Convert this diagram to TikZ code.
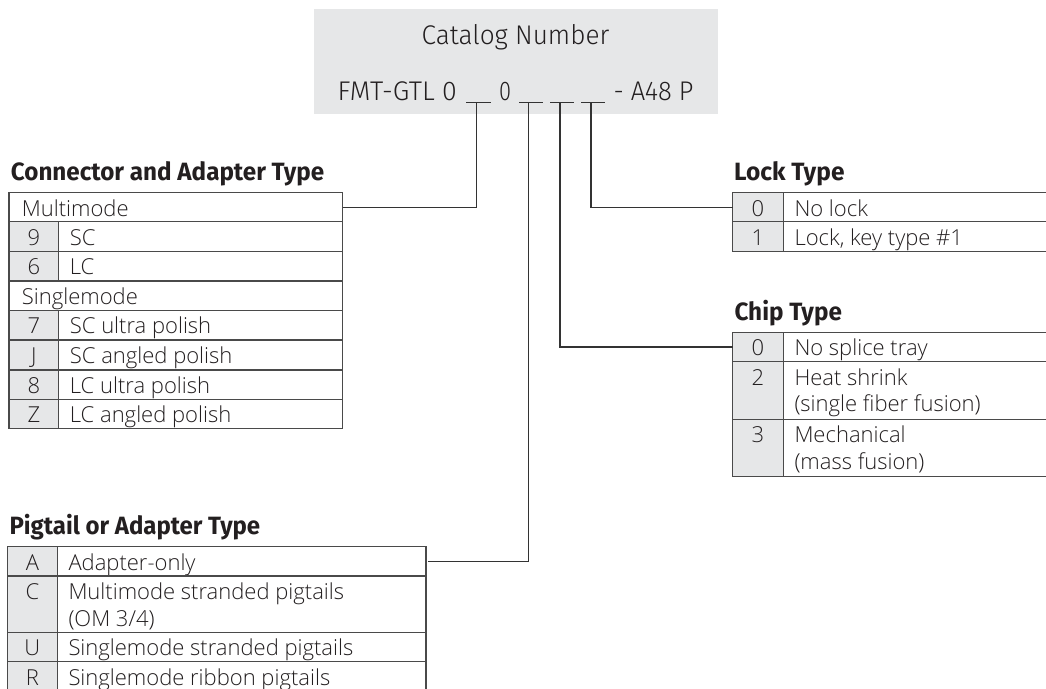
\documentclass[tikz,border=0pt]{standalone}
\usepackage{fontspec}
\setmainfont{Open Sans}[UprightFont={* Light}]
\newfontfamily\headfont{Fira Sans}
\newfontfamily\catfont{Fira Sans}[UprightFont={* Light}]
\usetikzlibrary{fit}
\definecolor{boxgrey}{HTML}{E6E7E8}
\definecolor{linecol}{HTML}{4A4A4A}
\definecolor{wirecol}{HTML}{333333}
\definecolor{txtcol}{HTML}{231F20}
\tikzset{
  cell/.style={draw=linecol, line width=1.4pt, inner sep=0pt, outer sep=0pt},
  numcell/.style={cell, fill=boxgrey},
  txt/.style={inner sep=0pt, text=txtcol, font=\fontsize{22}{26}\selectfont},
  head/.style={inner sep=0pt, anchor=base west, text=txtcol, font=\headfont\bfseries\fontsize{25}{29}\selectfont},
  cattxt/.style={inner sep=0pt, text=txtcol, font=\catfont\fontsize{27}{32}\selectfont},
  wire/.style={draw=wirecol, line width=1.2pt},
  blankline/.style={draw=wirecol, line width=1pt},
}
% #1 name, #2 left, #3 divider, #4 right, #5 top, #6 bottom, #7 number, #8 line 1, #9 line 2
\newcommand\numrow[9]{%
  \node[numcell, fit={(#2,#5)(#3,#6)}] (#1num) {};
  \node[cell, fit={(#3,#5)(#4,#6)}] (#1) {};
  \node[txt, anchor=base] (#1k) at ({(#2+#3)/2},{#5+23.5}) {#7};
  \node[txt, anchor=base west] (#1t) at ({#3+11},{#5+23.5}) {#8};
  \node[txt, anchor=base west] (#1u) at ({#3+11},{#5+50}) {#9};
}
% #1 name, #2 left, #3 right, #4 top, #5 bottom, #6 text
\newcommand\fullrow[6]{%
  \node[cell, fit={(#2,#4)(#3,#5)}] (#1) {};
  \node[txt, anchor=base west] (#1t) at ({#2+12.7},{#4+23.5}) {#6};
}
\begin{document}
\begin{tikzpicture}[x=1pt,y=-1pt]
\useasboundingbox (0,0) rectangle (1046,688);
\clip (0,0) rectangle (1046,688);
\fill[white] (0,0) rectangle (1046,688);

% catalog number box
\node[fill=boxgrey, inner sep=0pt, fit={(314,9)(717.7,114)}] (box) {};
\node[cattxt, anchor=base] (cat) at (515.5,45) {\resizebox{187.6pt}{\height}{Catalog Number}};
\node[cattxt, anchor=base west] (fmt) at (337.3,100) {\resizebox{119.4pt}{\height}{FMT-GTL 0}};
\node[cattxt, anchor=base west] (zero) at (499,100) {\resizebox{12pt}{\height}{0}};
\node[cattxt, anchor=base west] (suffix) at (613.3,100) {\resizebox{80pt}{\height}{- A48 P}};
\draw[blankline] (466,102) -- (490.7,102);
\draw[blankline] (519,102) -- (543.3,102);
\draw[blankline] (550,102) -- (574,102);
\draw[blankline] (581,102) -- (605,102);
\coordinate (b1) at (476.7,102);
\coordinate (b2) at (528.7,102);
\coordinate (b3) at (560,102);
\coordinate (b4) at (591,102);

% headings
\node[head] (hconn) at (10.7,180.7) {\resizebox{313.3pt}{\height}{Connector and Adapter Type}};
\node[head] (hlock) at (734,180.7) {\resizebox{110.3pt}{\height}{Lock Type}};
\node[head] (hchip) at (734.3,320.7) {\resizebox{107.4pt}{\height}{Chip Type}};
\node[head] (hpig) at (9.3,534) {\resizebox{250.7pt}{\height}{Pigtail or Adapter Type}};

% connector and adapter type table
\fullrow{mm}{9}{342.7}{192.7}{221.7}{Multimode}
\numrow{cnine}{9}{58.7}{342.7}{221.7}{251.3}{9}{SC}{}
\numrow{csix}{9}{58.7}{342.7}{251.3}{281}{6}{LC}{}
\fullrow{sm}{9}{342.7}{281}{310.3}{Singlemode}
\numrow{cseven}{9}{58.7}{342.7}{310.3}{340}{7}{SC ultra polish}{}
\numrow{cj}{9}{58.7}{342.7}{340}{370}{J}{SC angled polish}{}
\numrow{ceight}{9}{58.7}{342.7}{370}{399.3}{8}{LC ultra polish}{}
\numrow{cz}{9}{58.7}{342.7}{399.3}{428.3}{Z}{LC angled polish}{}

% lock type table
\numrow{lkzero}{732.7}{783.3}{1060}{192.7}{221.7}{0}{No lock}{}
\numrow{lkone}{732.7}{783.3}{1060}{221.7}{251.7}{1}{Lock, key type \#1}{}

% chip type table
\numrow{chzero}{732.7}{783.3}{1060}{332.3}{361.7}{0}{No splice tray}{}
\numrow{chtwo}{732.7}{783.3}{1060}{361.7}{419.3}{2}{Heat shrink}{(single fiber fusion)}
\numrow{chthree}{732.7}{783.3}{1060}{419.3}{476.7}{3}{Mechanical}{(mass fusion)}

% pigtail or adapter type table
\numrow{pa}{7.5}{57.3}{426}{546.7}{576}{A}{Adapter-only}{}
\numrow{pc}{7.5}{57.3}{426}{576}{632.3}{C}{Multimode stranded pigtails}{(OM 3/4)}
\numrow{pu}{7.5}{57.3}{426}{632.3}{661.7}{U}{Singlemode stranded pigtails}{}
\numrow{pr}{7.5}{57.3}{426}{661.7}{691}{R}{Singlemode ribbon pigtails}{}

% connectors
\draw[wire] (b1) |- (mm.east);
\draw[wire] (b2) |- ([xshift=2pt]pa.east);
\draw[wire] (b3) |- (chzeronum.west);
\draw[wire] (b4) |- (lkzeronum.west);
\end{tikzpicture}
\end{document}
